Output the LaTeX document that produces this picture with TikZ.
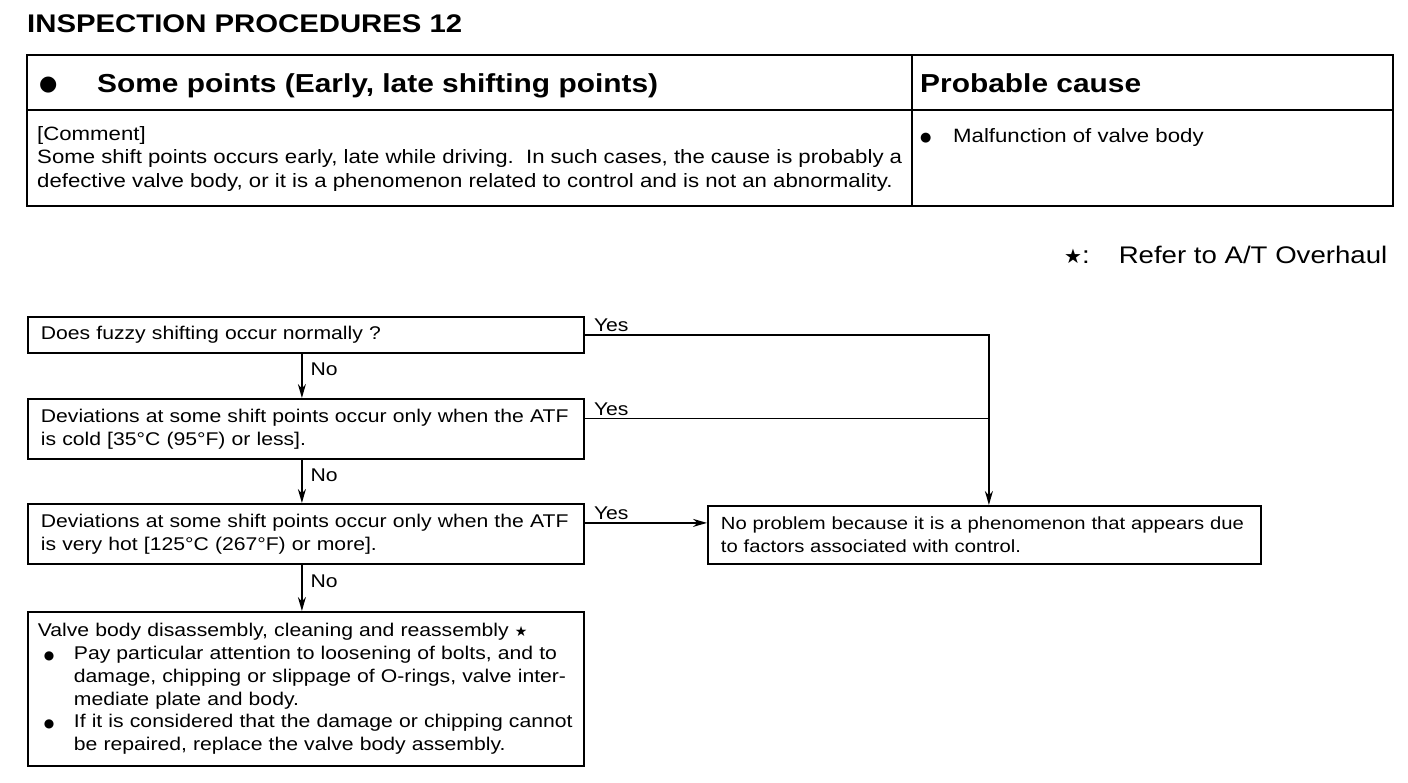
\documentclass[tikz,border=0pt]{standalone}
\usepackage{fontspec}
\setmainfont{Liberation Sans}[FakeStretch=1.15]
\newfontfamily\symf{DejaVu Sans}
\usetikzlibrary{arrows.meta}
\begin{document}
\begin{tikzpicture}[x=1pt,y=-1pt,
  fc/.style={font=\fontsize{18.4}{22.8}\selectfont},
  bodyfont/.style={font=\fontsize{19.3}{23.5}\selectfont},
  box/.style={draw, line width=1.8pt, anchor=north west, inner xsep=13pt, inner ysep=0pt, align=left, fc},
  conn/.style={line width=1.5pt},
  arr/.style={conn, -{Stealth[length=14pt,width=8pt]}},
  lbl/.style={fc, inner sep=0pt},
  txt/.style={inner sep=0pt, anchor=base west}
]
\useasboundingbox (0,0) rectangle (1408,782);
% title
\node[txt, font=\bfseries\fontsize{25.5}{30}\selectfont] (title) at (27,32) {INSPECTION PROCEDURES 12};
% table
\draw[line width=2.5pt] (27,55) rectangle (1393,206);
\draw[line width=1.8pt] (27,110) -- (1393,110);
\draw[line width=1.8pt] (912,55) -- (912,206);
\node[txt, font=\symf\fontsize{21}{24}\selectfont] (hb) at (39,90) {●};
\node[txt, font=\bfseries\fontsize{26}{30}\selectfont] (h1) at (97,92) {Some points (Early, late shifting points)};
\node[txt, font=\bfseries\fontsize{26}{30}\selectfont] (h2) at (920,92) {Probable cause};
\node[inner sep=0pt, anchor=north west, bodyfont, text width=865pt, align=justify] (comment) at (37,126)
  {[Comment]\\Some shift points occurs early, late while driving.\ \ In such cases, the cause is probably a\linebreak defective valve body, or it is a phenomenon related to control and is not an abnormality.};
\node[txt, font=\symf\fontsize{13}{16}\selectfont] (cb) at (920,141) {●};
\node[txt, bodyfont] (cause) at (953,142) {Malfunction of valve body};
% legend
\node[txt, font=\fontsize{24}{28}\selectfont] (legend) at (1064,263) {{\symf\fontsize{20}{20}\selectfont ★}:\hspace{29pt}Refer to A/T Overhaul};
% flowchart
\node[box, text width=530pt, minimum height=36pt] (b1) at (27,316) {Does fuzzy shifting occur normally ?};
\node[box, text width=530pt, minimum height=60pt] (b2) at (27,398) {\mbox{Deviations at some shift points occur only when the ATF}\\is cold [35°C (95°F) or less].};
\node[box, text width=530pt, minimum height=60pt] (b3) at (27,503) {\mbox{Deviations at some shift points occur only when the ATF}\\is very hot [125°C (267°F) or more].};
\node[box, inner xsep=10pt, text width=536pt, minimum height=154pt] (b4) at (27,611)
  {\mbox{Valve body disassembly, cleaning and reassembly {\symf\fontsize{14}{16}\selectfont ★}}\\
   \mbox{\makebox[36pt][l]{\hspace{6pt}{\symf\fontsize{12}{16}\selectfont ●}}Pay particular attention to loosening of bolts, and to}\\
   \mbox{\hspace*{36pt}damage, chipping or slippage of O-rings, valve inter-}\\
   \mbox{\hspace*{36pt}mediate plate and body.}\\
   \mbox{\makebox[36pt][l]{\hspace{6pt}{\symf\fontsize{12}{16}\selectfont ●}}If it is considered that the damage or chipping cannot}\\
   \mbox{\hspace*{36pt}be repaired, replace the valve body assembly.}};
\node[box, text width=527pt, minimum height=58pt, font=\fontsize{17.6}{23}\selectfont] (b5) at (707,505) {\mbox{No problem because it is a phenomenon that appears due}\\to factors associated with control.};
% connectors
\draw[arr] ([xshift=-4pt]b1.south) -- node[lbl, right, pos=0.35, xshift=8pt] (no1) {No} ([xshift=-4pt]b2.north);
\draw[arr] ([xshift=-4pt]b2.south) -- node[lbl, right, pos=0.35, xshift=8pt] (no2) {No} ([xshift=-4pt]b3.north);
\draw[arr] ([xshift=-4pt]b3.south) -- node[lbl, right, pos=0.35, xshift=8pt] (no3) {No} ([xshift=-4pt]b4.north);
\coordinate (vx) at ([xshift=4.5pt]b5.north);
\coordinate (y2) at ([yshift=10.5pt]b2.east);
\coordinate (y3) at ([yshift=11pt]b3.east);
\draw[arr] (b1.east) -| (vx);
\draw[conn] (y2) -- (y2 -| vx);
\draw[arr] (y3) -- (y3 -| b5.west);
\node[lbl, anchor=south west] (yes1) at ([xshift=9pt,yshift=3pt]b1.east) {Yes};
\node[lbl, anchor=south west] (yes2) at ([xshift=9pt,yshift=3pt]y2) {Yes};
\node[lbl, anchor=south west] (yes3) at ([xshift=9pt,yshift=3pt]y3) {Yes};
\end{tikzpicture}
\end{document}
